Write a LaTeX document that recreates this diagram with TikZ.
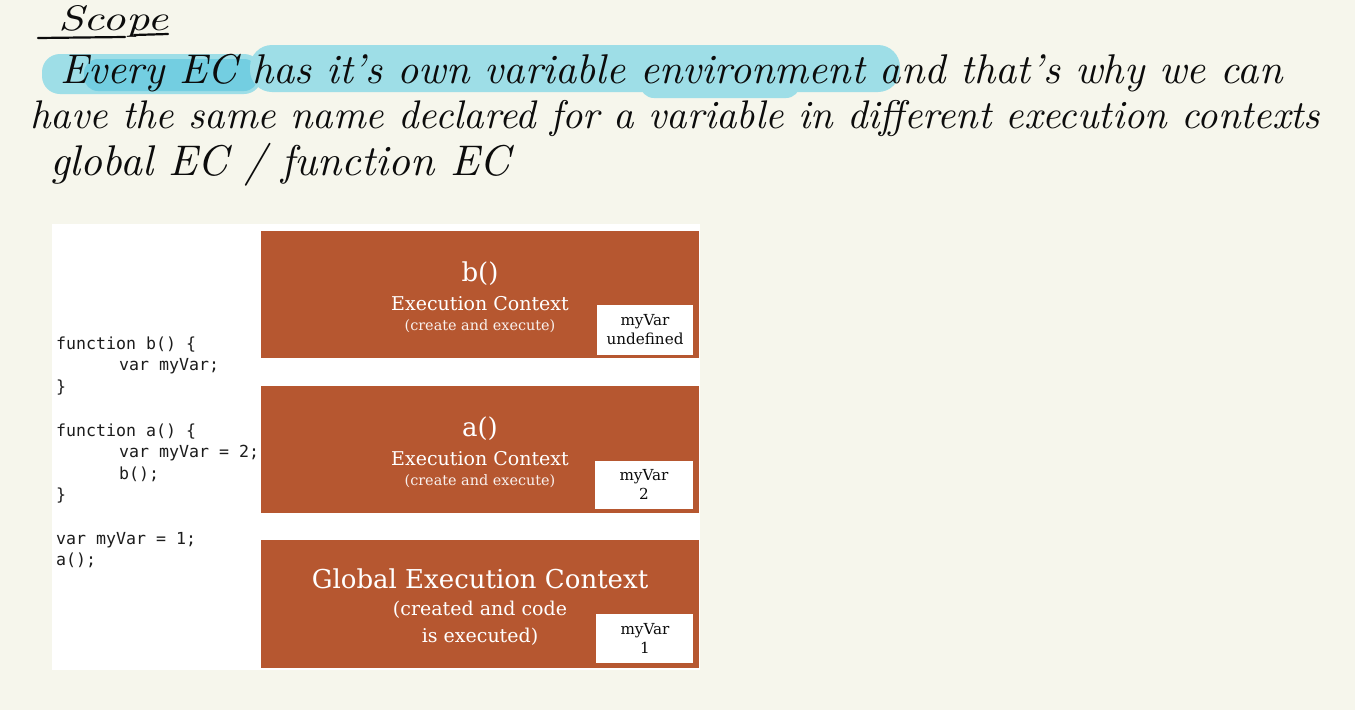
\documentclass[tikz,border=0pt]{standalone}
\usepackage{fontspec}
\usepackage{graphicx}
\newfontfamily\slabfont{DejaVu Serif}
\newfontfamily\codefont{DejaVu Sans Mono}
\definecolor{paper}{RGB}{246,246,236}
\definecolor{ecorange}{RGB}{182,87,48}
\definecolor{hilight}{RGB}{158,222,231}
\definecolor{hidark}{RGB}{115,206,225}
\definecolor{ink}{RGB}{12,12,12}
\definecolor{codeink}{RGB}{28,28,28}
\tikzset{
  hand/.style={anchor=base west, inner sep=0pt, text=ink, font=\itshape},
  codeline/.style={anchor=base west, inner sep=0pt, text=codeink, font=\codefont\fontsize{16.6}{20}\selectfont},
  ecbox/.style={fill=ecorange, draw=none},
  varbox/.style={fill=white, draw=none},
  ectitle/.style={anchor=base, inner sep=0pt, text=white, font=\slabfont\fontsize{26}{30}\selectfont},
  ecsub/.style={anchor=base, inner sep=0pt, text=white, font=\slabfont\fontsize{19}{23}\selectfont},
  ecsmall/.style={anchor=base, inner sep=0pt, text=white!92!ecorange, font=\slabfont\fontsize{14.4}{17}\selectfont},
  vartext/.style={anchor=base, inner sep=0pt, text=ink, font=\slabfont\fontsize{15.2}{18}\selectfont},
  penline/.style={draw=ink, line width=2.2pt, line cap=round}
}
\begin{document}
\begin{tikzpicture}[x=1pt,y=-1pt]
\useasboundingbox (0,0) rectangle (1355,710);
\fill[paper] (0,0) rectangle (1355,710);

% highlighter
\fill[hilight, rounded corners=18pt] (42,54) rectangle (262,94);
\fill[hidark, rounded corners=14pt] (84,59) rectangle (258,91);
\fill[hilight, rounded corners=22pt] (250,45) rectangle (900,92);
\fill[hilight, rounded corners=14pt] (640,62) rectangle (800,98);

% title
\node[hand] (scope) at (58,30) {\resizebox{110pt}{25pt}{Scope}};
\coordinate (ul1a) at (38,38);
\coordinate (ul1b) at (125,37);
\coordinate (ul2a) at (134,35);
\coordinate (ul2b) at (168,34);
\draw[penline] (ul1a) -- (ul1b);
\draw[penline] (ul2a) -- (ul2b);

\node[hand] (line1) at (60,83) {\resizebox{1222pt}{!}{Every EC has it's own variable environment and that's why we can}};
\node[hand] (line2) at (30,128) {\resizebox{1290pt}{!}{have the same name declared for a variable in different execution contexts}};
\node[hand] (line3) at (50,175) {\resizebox{460pt}{!}{global EC / function EC}};

% slide
\fill[white] (52,224) rectangle (700,670);

\fill[ecbox] (261,231) rectangle (699,358);
\fill[ecbox] (261,386) rectangle (699,513);
\fill[ecbox] (261,540) rectangle (699,668);

\fill[varbox] (597,305) rectangle (693,355);
\fill[varbox] (595,461) rectangle (693,509);
\fill[varbox] (596,614) rectangle (693,663);

% b()
\node[ectitle] (btitle) at (480,281) {b()};
\node[ecsub] (bsub) at (480,310) {Execution Context};
\node[ecsmall] (bnote) at (480,330) {(create and execute)};
\node[vartext] (bv1) at (645,325) {myVar};
\node[vartext] (bv2) at (645,344) {undefined};

% a()
\node[ectitle] (atitle) at (480,436) {a()};
\node[ecsub] (asub) at (480,465) {Execution Context};
\node[ecsmall] (anote) at (480,485) {(create and execute)};
\node[vartext] (av1) at (644,480) {myVar};
\node[vartext] (av2) at (644,499) {2};

% global
\node[ectitle] (gtitle) at (480,588) {Global Execution Context};
\node[ecsub] (gsub1) at (480,615) {(created and code};
\node[ecsub] (gsub2) at (480,642) {is executed)};
\node[vartext] (gv1) at (645,634) {myVar};
\node[vartext] (gv2) at (645,653) {1};

% code
\node[codeline] (c1) at (56,349) {function b() \{};
\node[codeline] (c2) at (119,370.5) {var myVar;};
\node[codeline] (c3) at (56,392) {\}};
\node[codeline] (c4) at (56,436) {function a() \{};
\node[codeline] (c5) at (119,457.5) {var myVar = 2;};
\node[codeline] (c6) at (119,479) {b();};
\node[codeline] (c7) at (56,500.5) {\}};
\node[codeline] (c8) at (56,544) {var myVar = 1;};
\node[codeline] (c9) at (56,565.5) {a();};
\end{tikzpicture}
\end{document}
